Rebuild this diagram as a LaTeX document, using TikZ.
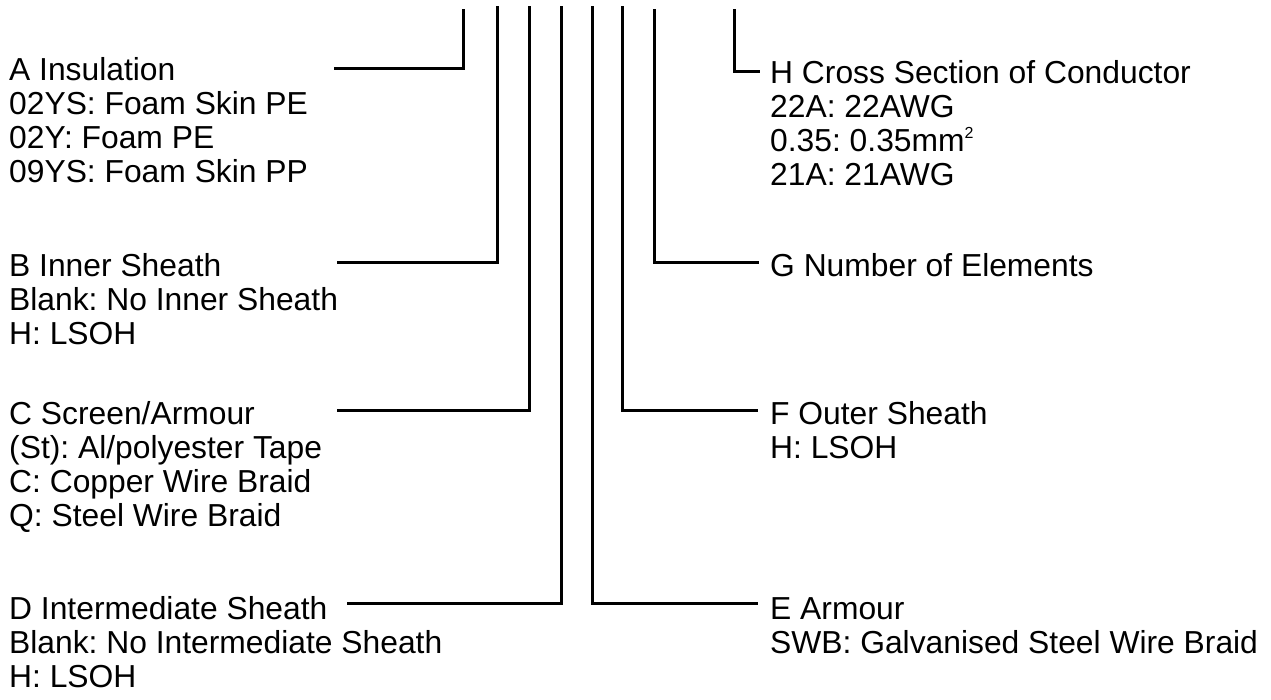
\documentclass[tikz,border=0pt]{standalone}
\usepackage{fontspec}
\setmainfont{Liberation Sans}
\frenchspacing
\begin{document}
\begin{tikzpicture}[x=1pt,y=-1pt,
  lbl/.style={anchor=base west,inner sep=0pt,font=\fontsize{31.8}{34}\selectfont},
  conn/.style={line width=3pt}]
\useasboundingbox (0,0) rectangle (1271,699);
% left labels
\node[lbl] (a1) at (9,80) {A Insulation};
\node[lbl] (a2) at (9,114) {02YS: Foam Skin PE};
\node[lbl] (a3) at (9,148) {02Y: Foam PE};
\node[lbl] (a4) at (9,182) {09YS: Foam Skin PP};
\node[lbl] (b1) at (9,276) {B Inner Sheath};
\node[lbl] (b2) at (9,310) {Blank: No Inner Sheath};
\node[lbl] (b3) at (9,344) {H: LSOH};
\node[lbl] (c1) at (9,424) {C Screen/Armour};
\node[lbl] (c2) at (9,458) {(St): Al/polyester Tape};
\node[lbl] (c3) at (9,492) {C: Copper Wire Braid};
\node[lbl] (c4) at (9,526) {Q: Steel Wire Braid};
\node[lbl] (d1) at (9,619) {D Intermediate Sheath};
\node[lbl] (d2) at (9,653) {Blank: No Intermediate Sheath};
\node[lbl] (d3) at (9,687) {H: LSOH};
% right labels
\node[lbl] (h1) at (770,83) {H Cross Section of Conductor};
\node[lbl] (h2) at (770,117) {22A: 22AWG};
\node[lbl] (h3) at (770,151) {0.35: 0.35mm\raisebox{13pt}{\fontsize{16}{16}\selectfont 2}};
\node[lbl] (h4) at (770,185) {21A: 21AWG};
\node[lbl] (g1) at (770,276) {G Number of Elements};
\node[lbl] (f1) at (770,424) {F Outer Sheath};
\node[lbl] (f2) at (770,458) {H: LSOH};
\node[lbl] (e1) at (770,619) {E Armour};
\node[lbl] (e2) at (770,653) {SWB: Galvanised Steel Wire Braid};
% connector coordinates
\coordinate (tA) at (463,9);  \coordinate (kA) at (463,68);  \coordinate (eA) at (334,68);
\coordinate (tB) at (497,6);  \coordinate (kB) at (497,262); \coordinate (eB) at (337,262);
\coordinate (tC) at (529,6);  \coordinate (kC) at (529,410); \coordinate (eC) at (337,410);
\coordinate (tD) at (561,6);  \coordinate (kD) at (561,603); \coordinate (eD) at (347,603);
\coordinate (tE) at (592,6);  \coordinate (kE) at (592,603); \coordinate (eE) at (758,603);
\coordinate (tF) at (622,6);  \coordinate (kF) at (622,410); \coordinate (eF) at (758,410);
\coordinate (tG) at (654,9);  \coordinate (kG) at (654,262); \coordinate (eG) at (759,262);
\coordinate (tH) at (734,9);  \coordinate (kH) at (734,71);  \coordinate (eH) at (760,71);
\draw[conn] (tA) -- (kA) -- (eA);
\draw[conn] (tB) -- (kB) -- (eB);
\draw[conn] (tC) -- (kC) -- (eC);
\draw[conn] (tD) -- (kD) -- (eD);
\draw[conn] (tE) -- (kE) -- (eE);
\draw[conn] (tF) -- (kF) -- (eF);
\draw[conn] (tG) -- (kG) -- (eG);
\draw[conn] (tH) -- (kH) -- (eH);
\end{tikzpicture}
\end{document}
